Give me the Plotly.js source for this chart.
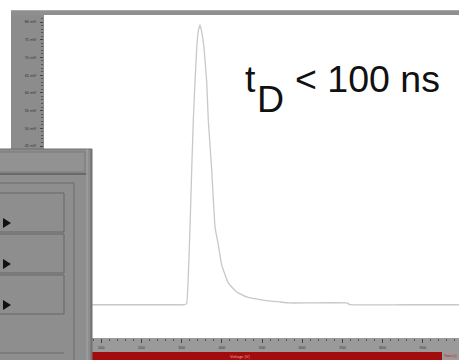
<!DOCTYPE html>
<html>
<head>
<meta charset="utf-8">
<script src="https://cdn.plot.ly/plotly-3.0.1.min.js"></script>
<style>html,body{margin:0;padding:0;background:#fff;}#chart{width:459px;height:360px;}</style>
</head>
<body>
<div id="chart"></div>
<script>
// ---- data ----
const timeNs = [-42, 100, 200, 300, 308, 312.7, 320.9, 325.1, 329.1, 333.3, 337.6, 341.9, 345.8, 350, 355.7, 362.4, 366.4, 374.9, 383.1, 391.3, 399.8, 416.2, 437.1, 461.9, 502.5, 544.8, 569.7, 711.4, 719, 850, 990];
const signalMv = [0.2, 0.2, 0.2, 0.2, 0.2, 0.6, 22.1, 38.2, 52.3, 63.1, 72.7, 77.7, 79.2, 77.2, 72.7, 63.1, 52.3, 38.2, 22.1, 17.1, 11.4, 6.3, 3.8, 2.4, 1.5, 0.98, 0.7, 0.7, 0.2, 0.2, 0.2];
const xTickVals = [100, 200, 300, 400, 500, 600, 700, 800, 900, 1000];
const xTickText = ["100", "200", "300", "400", "500", "600", "700", "800", "900", "1000"];
const yTickVals = [-5, 0, 5, 10, 15, 20, 25, 30, 35, 40, 45, 50, 55, 60, 65, 70, 75, 80];
const yTickText = yTickVals.map(v => v + " mV");
const annotationMain = "&lt; 100 ns";

// ---- layout helpers (pixel -> paper) ----
const L = 44, T = 15, PW = 415, PH = 323;
const fx = p => (p - L) / PW;
const fy = p => (T + PH - p) / PH;
function rect(x0, y0, x1, y1, fill, line, layer) {
  return {type: 'rect', xref: 'paper', yref: 'paper', x0: fx(x0), x1: fx(x1), y0: fy(y1), y1: fy(y0),
    fillcolor: fill, line: {width: line ? 1 : 0, color: line || fill}, layer: layer || 'above'};
}
function seg(x0, y0, x1, y1, color, w, layer) {
  return {type: 'line', xref: 'paper', yref: 'paper', x0: fx(x0), x1: fx(x1), y0: fy(y0), y1: fy(y1),
    line: {width: w || 1, color: color}, layer: layer || 'above'};
}
function tri(cx, cy) {
  const p = `M ${fx(cx)} ${fy(cy - 5)} L ${fx(cx)} ${fy(cy + 5)} L ${fx(cx + 8)} ${fy(cy)} Z`;
  return {type: 'path', xref: 'paper', yref: 'paper', path: p, fillcolor: '#111', line: {width: 0}, layer: 'above'};
}

const shapes = [
  rect(11, 10, 459, 15, '#8f8f8f', null, 'below'),
  seg(11, 10.5, 459, 10.5, '#a9a9a9', 1, 'below'),
  rect(11, 15, 44, 338, '#8c8c8c', null, 'below'),
  rect(44, 338, 459, 352, '#9a9a9a', null, 'below'),
  rect(92, 352, 442, 360, '#a20c0c', null, 'below'),
  rect(442, 352, 459, 360, '#9a9a9a', null, 'below'),
  // dialog panel
  rect(-1, 149, 92, 361, '#8e8e8e', '#6f6f6f'),
  rect(-1, 152, 85, 172, '#929292', '#7a7a7a'),
  rect(-1, 173, 87, 175, '#6a6a6a'),
  seg(87, 149, 87, 360, '#a6a6a6', 1),
  seg(91, 149, 91, 360, '#6a6a6a', 1),
  seg(74, 183, 74, 360, '#6a6a6a', 1),
  seg(0, 183, 74, 183, '#6a6a6a', 1),
  rect(-2, 193, 64, 232, '#8e8e8e', '#666666'),
  rect(-2, 234, 64, 273, '#8e8e8e', '#666666'),
  rect(-2, 275, 64, 314, '#8e8e8e', '#666666'),
  seg(0, 353, 64, 353, '#6a6a6a', 1),
  tri(3, 223), tri(3, 264), tri(3, 305)
];

const trace = {
  x: timeNs, y: signalMv, type: 'scatter', mode: 'lines',
  line: {color: '#c8c8c8', width: 1.3, shape: 'spline', smoothing: 0.3},
  hoverinfo: 'skip'
};

const tickFont = {family: 'Liberation Sans, Arial, sans-serif', size: 4, color: '#333'};
const bigFont = {family: 'Liberation Sans, Arial, sans-serif', size: 37.5, color: '#111'};

const layout = {
  width: 459, height: 360,
  margin: {l: L, r: 0, t: T, b: 360 - T - PH, pad: 0},
  paper_bgcolor: '#ffffff', plot_bgcolor: '#ffffff',
  showlegend: false,
  xaxis: {
    range: [-42.3, 990], showgrid: false, zeroline: false, showline: false,
    tickmode: 'array', tickvals: xTickVals, ticktext: xTickText,
    ticks: 'outside', ticklen: 4, tickcolor: '#444', tickwidth: 1,
    minor: {ticks: 'outside', ticklen: 2, dtick: 20, tickcolor: '#555', showgrid: false},
    tickfont: tickFont, ticklabelstandoff: 1
  },
  yaxis: {
    range: [-9.19, 81.98], showgrid: false, zeroline: false, showline: false,
    tickmode: 'array', tickvals: yTickVals, ticktext: yTickText,
    ticks: 'outside', ticklen: 3, tickcolor: '#444', tickwidth: 1,
    minor: {ticks: 'outside', ticklen: 2, dtick: 1, tickcolor: '#555', showgrid: false},
    tickfont: tickFont, ticklabelstandoff: 3
  },
  shapes: shapes,
  annotations: [
    {xref: 'paper', yref: 'paper', x: fx(244), y: fy(79.5), xanchor: 'left', yanchor: 'middle',
     text: 't', showarrow: false, font: bigFont, borderpad: 0},
    {xref: 'paper', yref: 'paper', x: fx(256), y: fy(98.5), xanchor: 'left', yanchor: 'middle',
     text: 'D', showarrow: false, font: bigFont, borderpad: 0},
    {xref: 'paper', yref: 'paper', x: fx(294), y: fy(79.5), xanchor: 'left', yanchor: 'middle',
     text: annotationMain, showarrow: false, font: bigFont, borderpad: 0},
    {xref: 'paper', yref: 'paper', x: fx(240), y: fy(356), xanchor: 'center', yanchor: 'middle',
     text: 'Voltage (V)', showarrow: false, font: {family: 'Liberation Sans, Arial', size: 4, color: '#e6a0a0'}},
    {xref: 'paper', yref: 'paper', x: fx(458), y: fy(356), xanchor: 'right', yanchor: 'middle',
     text: 'Time (s)', showarrow: false, borderpad: 0, font: {family: 'Liberation Sans, Arial', size: 3.5, color: '#c81010'}}
  ]
};

Plotly.newPlot('chart', [trace], layout, {staticPlot: true, displayModeBar: false});
</script>
</body>
</html>
